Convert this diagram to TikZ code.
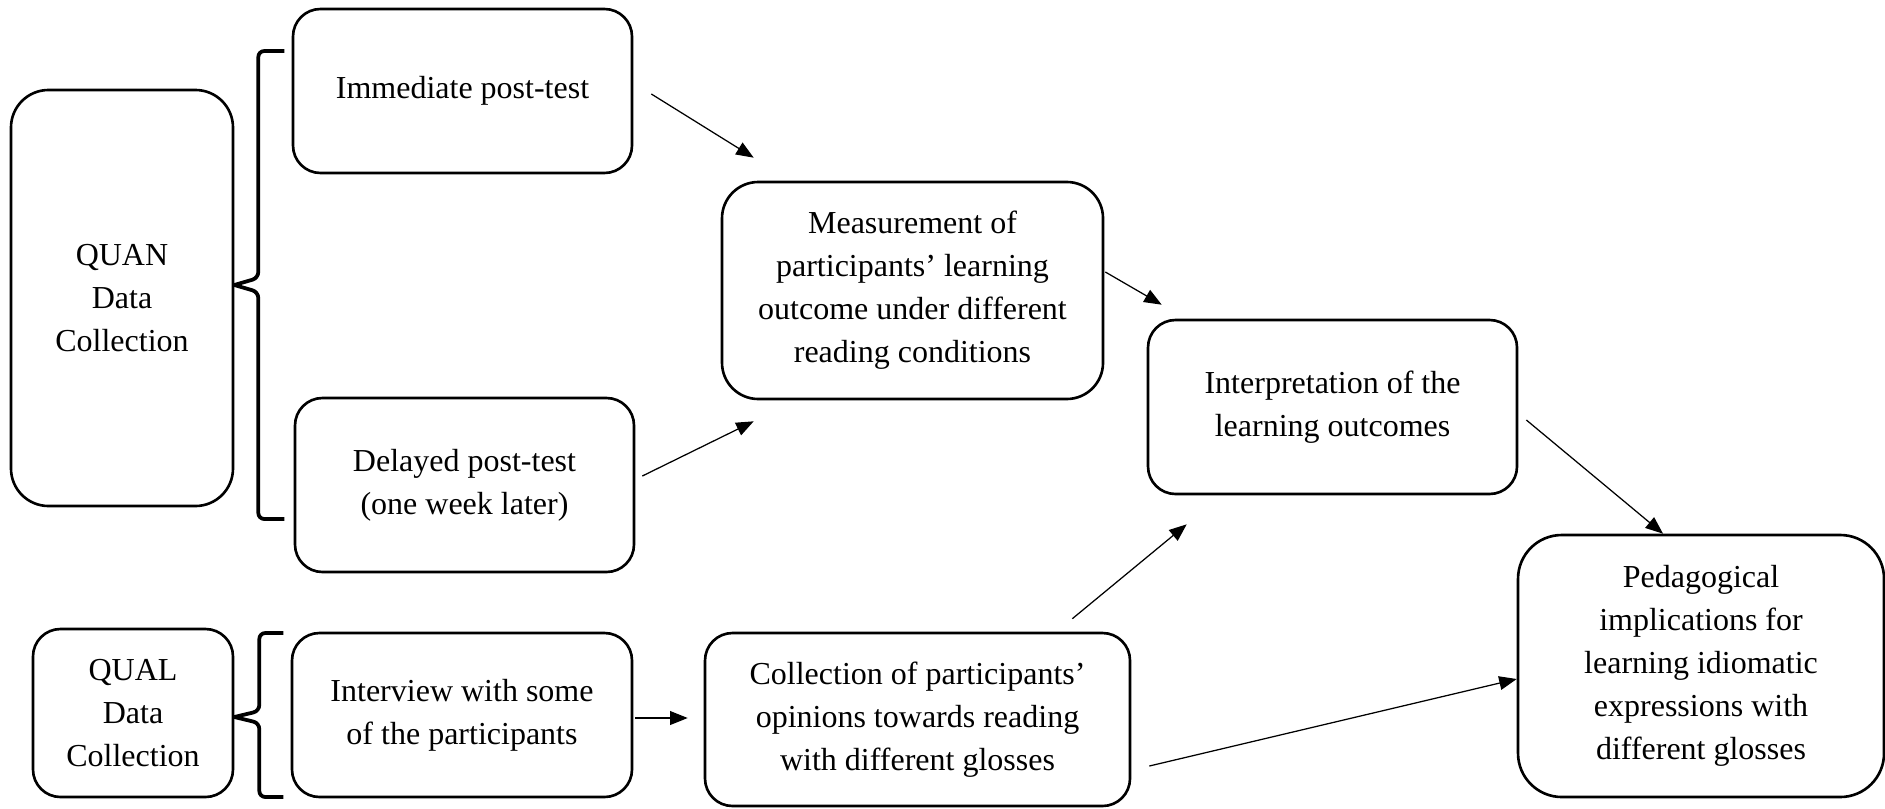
\documentclass[tikz,border=0pt]{standalone}
\usepackage{fontspec}
\setmainfont{Liberation Serif}
\usetikzlibrary{arrows.meta}

\begin{document}
\begin{tikzpicture}[x=0.4pt,y=0.4pt]
\tikzstyle{box}=[draw,line width=1.05pt,rounded corners=11pt,align=center,inner sep=2pt,font=\fontsize{12.8}{17.2}\selectfont]
\tikzstyle{link}=[line width=0.5pt,-{Triangle[length=7pt,width=5.5pt]}]
\tikzstyle{brace}=[line width=1.5pt,rounded corners=2.4pt]
\useasboundingbox (-122,-510) rectangle (1763,298);
\node [box,minimum width=88.8pt,minimum height=166.4pt,rounded corners=15pt] (quan){QUAN\\Data\\Collection};
\node [box,minimum width=135.6pt,minimum height=65.6pt,node distance=136.2pt,right of=quan,yshift=82.8pt] (imm){Immediate post-test};
\node [box,minimum width=135.6pt,minimum height=69.6pt,node distance=157.6pt,below of=imm,xshift=0.8pt] (del){Delayed post-test\\(one week later)};
\node [box,minimum width=152.4pt,minimum height=86.8pt,rounded corners=14.5pt,node distance=316.2pt,right of=quan,yshift=3pt] (meas){Measurement of\\participants’ learning\\outcome under different\\reading conditions};
\node [box,minimum width=147.6pt,minimum height=69.6pt,node distance=168pt,right of=meas,yshift=-46.6pt] (interp){Interpretation of the\\learning outcomes};
\node [box,minimum width=80pt,minimum height=67.2pt,node distance=166pt,below of=quan,xshift=4.4pt] (qual){QUAL\\Data\\Collection};
\node [box,minimum width=136pt,minimum height=65.6pt,node distance=131.6pt,right of=qual,yshift=-0.8pt] (intv){Interview with some\\of the participants};
\node [box,minimum width=170pt,minimum height=69.2pt,node distance=182.2pt,right of=intv,yshift=-1.8pt] (coll){Collection of participants’\\opinions towards reading\\with different glosses};
\node [box,minimum width=146.4pt,minimum height=104.8pt,rounded corners=17.5pt,node distance=147.4pt,right of=interp,yshift=-103.6pt] (ped){Pedagogical\\implications for\\learning idiomatic\\expressions with\\different glosses};
% brackets
\draw[brace] ([yshift=5.2pt]quan.east) -- ++(24,7) -- ++(0,227) -- ++(26,0);
\draw[brace] ([yshift=5.2pt]quan.east) -- ++(24,-7) -- ++(0,-227) -- ++(26,0);
\draw[brace] ([yshift=-1.6pt]qual.east) -- ++(25,6) -- ++(0,78) -- ++(24,0);
\draw[brace] ([yshift=-1.6pt]qual.east) -- ++(25,-6) -- ++(0,-74) -- ++(24,0);
% arrows
\path[link]
    ([xshift=7.2pt,yshift=-1.2pt]imm.east) edge ([xshift=13.2pt,yshift=9.2pt]meas.north west)
    ([xshift=2.8pt,yshift=3.6pt]del.east) edge ([xshift=13.2pt,yshift=-8.4pt]meas.south west)
    ([xshift=0.4pt,yshift=7.4pt]meas.east) edge ([xshift=6pt,yshift=5.6pt]interp.north west)
    ([xshift=0.8pt,yshift=-1.2pt]intv.east) edge ([xshift=-6.4pt,yshift=0.6pt]coll.west)
    ([xshift=-23.6pt,yshift=5.2pt]coll.north east) edge ([xshift=16pt,yshift=-11.6pt]interp.south west)
    ([xshift=3.2pt,yshift=-5.2pt]interp.east) edge ([xshift=-15.2pt]ped.north)
    ([xshift=7.2pt,yshift=-18.6pt]coll.east) edge ([yshift=-5.2pt]ped.west);
\end{tikzpicture}
\end{document}
